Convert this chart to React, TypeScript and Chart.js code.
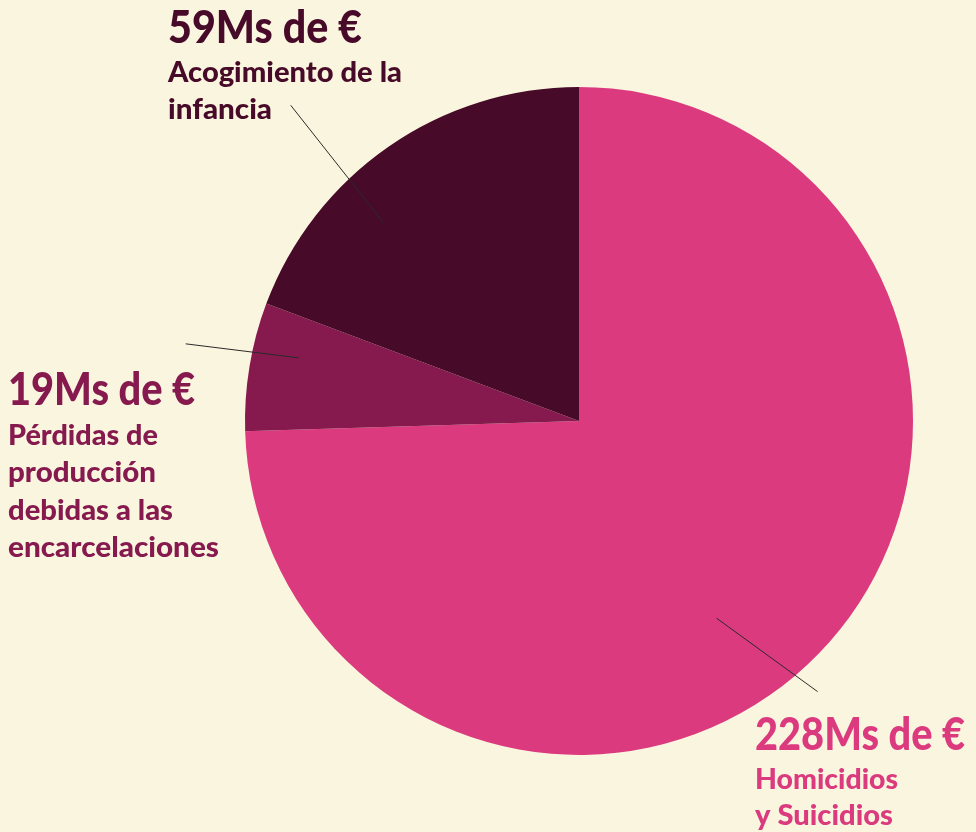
import React, { useEffect, useRef } from "react";
import { Chart, registerables } from "chart.js";

Chart.register(...registerables);

const categories = ["Homicidios y Suicidios", "Pérdidas de producción debidas a las encarcelaciones", "Acogimiento de la infancia"];
const values = [228, 19, 59];
const colors = ["#DB3A7E", "#861A4E", "#470A28"];
const valueLabels = ["228Ms de €", "19Ms de €", "59Ms de €"];
const labelLines = [["Homicidios", "y Suicidios"], ["Pérdidas de", "producción", "debidas a las", "encarcelaciones"], ["Acogimiento de la", "infancia"]];

// label placement and text widths (px) and leader-line polar geometry (deg from top, radius fraction)
const labelPos = [
  { x: 755, y: 750, gap: 36.5, titleW: 210, lineW: [143, 138], lead: [145.1, 0.72, 138.6, 1.08] },
  { x: 8, y: 405, gap: 37.5, titleW: 187, lineW: [150, 148, 165, 211], lead: [282.7, 0.86, 281.1, 1.2] },
  { x: 168, y: 43, gap: 37, titleW: 194, lineW: [234, 104], lead: [315.4, 0.835, 317.6, 1.28] },
];

function fitText(ctx: CanvasRenderingContext2D, text: string, x: number, y: number, w: number) {
  const m = ctx.measureText(text).width;
  const s = w / m;
  ctx.save();
  ctx.translate(x, y);
  ctx.scale(s, 1);
  ctx.fillText(text, 0, 0);
  ctx.restore();
}

const labelsPlugin = {
  id: "labelsPlugin",
  afterDraw(chart: any) {
    const ctx = chart.ctx;
    const arc = chart.getDatasetMeta(0).data[0];
    const cx = arc.x, cy = arc.y, r = arc.outerRadius;
    ctx.save();
    labelPos.forEach((p, i) => {
      const [a1, f1, a2, f2] = p.lead;
      const pt = (a: number, f: number) => {
        const rad = (a * Math.PI) / 180;
        return [cx + Math.sin(rad) * r * f, cy - Math.cos(rad) * r * f];
      };
      const [x1, y1] = pt(a1, f1);
      const [x2, y2] = pt(a2, f2);
      ctx.strokeStyle = "#2a2a2a";
      ctx.lineWidth = 1;
      ctx.beginPath();
      ctx.moveTo(x1, y1);
      ctx.lineTo(x2, y2);
      ctx.stroke();

      ctx.fillStyle = colors[i];
      ctx.textAlign = "left";
      ctx.textBaseline = "alphabetic";
      ctx.font = "900 45px Lato";
      fitText(ctx, valueLabels[i], p.x, p.y, p.titleW);
      ctx.font = "900 28px Lato";
      labelLines[i].forEach((t, j) => {
        fitText(ctx, t, p.x, p.y + p.gap * (j + 1) + 2, p.lineW[j]);
      });
    });
    ctx.restore();
  },
};

export default function App() {
  const ref = useRef<HTMLCanvasElement>(null);
  useEffect(() => {
    if (!ref.current) return;
    const chart = new Chart(ref.current, {
      type: "pie",
      data: {
        labels: categories,
        datasets: [{ data: values, backgroundColor: colors, borderWidth: 0 }],
      },
      options: {
        responsive: false,
        animation: false,
        layout: { padding: { left: 245, right: 63, top: 87, bottom: 77 } },
        plugins: { legend: { display: false }, tooltip: { enabled: false } },
      },
      plugins: [labelsPlugin],
    });
    return () => chart.destroy();
  }, []);
  return (
    <div style={{ position: "absolute", left: 0, top: 0, width: 976, height: 832, background: "#FAF5DE" }}>
      <canvas ref={ref} width={976} height={832} style={{ display: "block" }} />
    </div>
  );
}
